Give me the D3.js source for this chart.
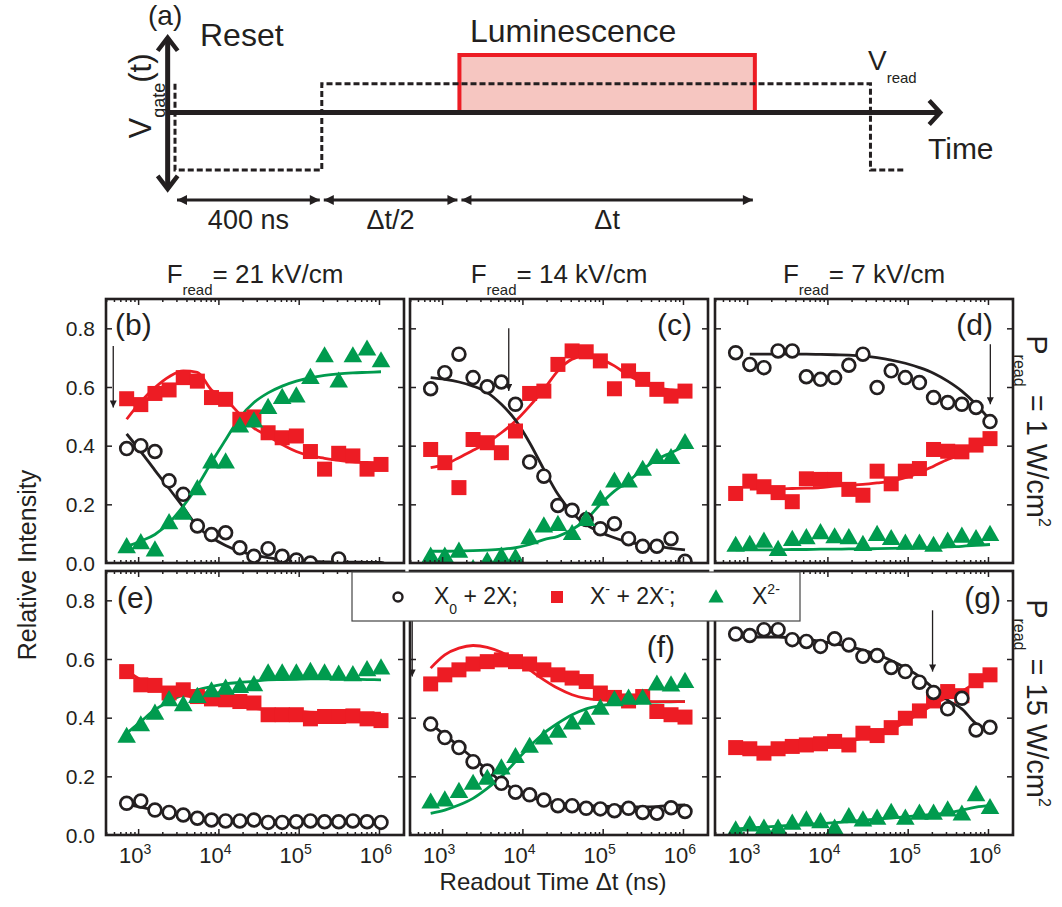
<!DOCTYPE html>
<html>
<head>
<meta charset="utf-8">
<script src="https://cdn.jsdelivr.net/npm/d3@7/dist/d3.min.js"></script>
<style>
  body { margin: 0; background: #fff; }
  text { font-family: "Liberation Sans", Arial, sans-serif; fill: #231f20; }
</style>
</head>
<body>
<div id="chart"></div>
<script>
// readout times (ns), same grid in every panel
var readTimes = [720, 1080, 1620, 2430, 3650, 5470, 8200, 12300, 18500, 27700, 41600, 62300, 93500, 140000, 210000, 315000, 473000, 710000, 1060000];

// (b) F = 21 kV/cm, P = 1 W/cm2
var b_x0 = [0.39, 0.40, 0.38, 0.28, 0.234, 0.126, 0.097, 0.103, 0.052, 0.023, 0.049, 0.023, 0.01, 0.0, -0.02, 0.014, -0.02, -0.02, -0.02];
var b_xm = [0.56, 0.54, 0.578, 0.59, 0.632, 0.62, 0.564, 0.558, 0.49, 0.498, 0.444, 0.427, 0.433, 0.38, 0.32, 0.374, 0.365, 0.32, 0.336];
var b_x2 = [0.055, 0.069, 0.044, 0.137, 0.169, 0.253, 0.344, 0.344, 0.467, 0.484, 0.53, 0.564, 0.569, 0.632, 0.706, 0.62, 0.706, 0.729, 0.689];
var b_fit0 = [0.44, 0.38, 0.316, 0.254, 0.19, 0.125, 0.087, 0.06, 0.04, 0.027, 0.018, 0.012, 0.008, 0.005, 0.004, 0.003, 0.003, 0.002, 0.002];
var b_fitm = [0.49, 0.55, 0.598, 0.635, 0.655, 0.65, 0.59, 0.558, 0.507, 0.46, 0.433, 0.404, 0.38, 0.365, 0.357, 0.35, 0.345, 0.343, 0.342];
var b_fit2 = [0.056, 0.075, 0.097, 0.137, 0.194, 0.262, 0.343, 0.42, 0.496, 0.547, 0.58, 0.603, 0.62, 0.632, 0.64, 0.645, 0.648, 0.65, 0.652];

// (c) F = 14 kV/cm, P = 1 W/cm2
var c_x0 = [0.594, 0.649, 0.712, 0.632, 0.601, 0.617, 0.541, 0.344, 0.296, 0.196, 0.18, 0.148, 0.117, 0.134, 0.083, 0.057, 0.057, 0.083, 0.006];
var c_xm = [0.387, 0.342, 0.257, 0.421, 0.41, 0.376, 0.45, 0.578, 0.586, 0.677, 0.723, 0.72, 0.689, 0.594, 0.655, 0.626, 0.592, 0.569, 0.586];
var c_x2 = [0.023, 0.023, 0.04, -0.02, 0.006, 0.023, 0.018, 0.086, 0.126, 0.131, 0.1, 0.148, 0.217, 0.279, 0.279, 0.319, 0.359, 0.359, 0.41];
var c_fit0 = [0.632, 0.626, 0.617, 0.603, 0.581, 0.541, 0.487, 0.41, 0.319, 0.234, 0.171, 0.131, 0.105, 0.086, 0.071, 0.063, 0.057, 0.05, 0.045];
var c_fitm = [0.325, 0.336, 0.359, 0.384, 0.41, 0.444, 0.484, 0.535, 0.592, 0.655, 0.695, 0.706, 0.695, 0.672, 0.64, 0.615, 0.598, 0.59, 0.585];
var c_fit2 = [0.04, 0.04, 0.041, 0.042, 0.044, 0.047, 0.052, 0.063, 0.08, 0.091, 0.114, 0.148, 0.2, 0.245, 0.279, 0.319, 0.353, 0.376, 0.399];

// (d) F = 7 kV/cm, P = 1 W/cm2
var d_x0 = [0.717, 0.677, 0.666, 0.723, 0.723, 0.635, 0.626, 0.632, 0.674, 0.712, 0.598, 0.655, 0.632, 0.615, 0.564, 0.547, 0.541, 0.53, 0.482];
var d_xm = [0.237, 0.279, 0.26, 0.24, 0.209, 0.287, 0.285, 0.285, 0.251, 0.231, 0.313, 0.27, 0.313, 0.322, 0.387, 0.381, 0.379, 0.402, 0.424];
var d_x2 = [0.06, 0.063, 0.074, 0.046, 0.08, 0.086, 0.103, 0.089, 0.086, 0.063, 0.097, 0.083, 0.067, 0.067, 0.06, 0.074, 0.091, 0.083, 0.097];
var d_fit0 = [null, 0.712, 0.712, 0.712, 0.712, 0.712, 0.711, 0.71, 0.709, 0.706, 0.70, 0.692, 0.681, 0.666, 0.647, 0.62, 0.586, 0.541, 0.487];
var d_fitm = [null, 0.252, 0.253, 0.253, 0.254, 0.255, 0.257, 0.262, 0.265, 0.268, 0.273, 0.279, 0.291, 0.308, 0.33, 0.353, 0.37, 0.395, null];
var d_fit2 = [0.045, 0.045, 0.045, 0.045, 0.046, 0.046, 0.047, 0.047, 0.048, 0.048, 0.049, 0.05, 0.051, 0.052, 0.052, 0.055, 0.057, 0.06, 0.063];

// (e) F = 21 kV/cm, P = 15 W/cm2
var e_x0 = [0.108, 0.116, 0.085, 0.077, 0.068, 0.057, 0.051, 0.048, 0.048, 0.051, 0.043, 0.043, 0.045, 0.048, 0.045, 0.045, 0.048, 0.045, 0.043];
var e_xm = [0.557, 0.512, 0.51, 0.484, 0.495, 0.472, 0.464, 0.461, 0.455, 0.45, 0.41, 0.41, 0.41, 0.396, 0.404, 0.404, 0.406, 0.396, 0.39];
var e_x2 = [0.336, 0.375, 0.415, 0.461, 0.444, 0.472, 0.491, 0.5, 0.506, 0.512, 0.552, 0.552, 0.552, 0.557, 0.552, 0.548, 0.546, 0.563, 0.569];
var e_fit0 = [0.105, 0.095, 0.085, 0.075, 0.066, 0.058, 0.053, 0.05, 0.048, 0.047, 0.046, 0.045, 0.045, 0.045, 0.045, 0.045, 0.045, 0.045, 0.045];
var e_fitm = [0.56, 0.529, 0.506, 0.489, 0.478, 0.466, 0.455, 0.446, 0.438, 0.432, 0.427, 0.424, 0.421, 0.419, 0.418, 0.417, 0.416, 0.415, 0.415];
var e_fit2 = [0.347, 0.387, 0.427, 0.455, 0.478, 0.495, 0.506, 0.515, 0.52, 0.524, 0.529, 0.53, 0.531, 0.532, 0.532, 0.532, 0.531, 0.53, 0.529];

// (f) F = 14 kV/cm, P = 15 W/cm2
var f_x0 = [0.378, 0.332, 0.298, 0.25, 0.218, 0.176, 0.146, 0.137, 0.119, 0.1, 0.1, 0.091, 0.089, 0.083, 0.091, 0.077, 0.074, 0.093, 0.08];
var f_xm = [0.515, 0.546, 0.563, 0.583, 0.591, 0.597, 0.591, 0.583, 0.563, 0.546, 0.535, 0.523, 0.484, 0.469, 0.457, 0.472, 0.421, 0.41, 0.402];
var f_x2 = [0.112, 0.119, 0.148, 0.176, 0.193, 0.228, 0.267, 0.302, 0.33, 0.353, 0.381, 0.398, 0.432, 0.461, 0.466, 0.466, 0.514, 0.511, 0.523];
var f_fit0 = [0.378, 0.341, 0.302, 0.262, 0.222, 0.182, 0.154, 0.131, 0.116, 0.108, 0.103, 0.1, 0.098, 0.097, 0.096, 0.096, 0.097, 0.1, 0.103];
var f_fitm = [0.569, 0.614, 0.637, 0.646, 0.64, 0.623, 0.597, 0.563, 0.529, 0.5, 0.478, 0.466, 0.461, 0.458, 0.457, 0.456, 0.455, 0.455, 0.455];
var f_fit2 = [0.074, 0.085, 0.102, 0.125, 0.159, 0.199, 0.25, 0.302, 0.347, 0.381, 0.41, 0.43, 0.441, 0.448, 0.45, 0.452, 0.453, 0.454, 0.455];

// (g) F = 7 kV/cm, P = 15 W/cm2
var g_x0 = [0.685, 0.68, 0.7, 0.7, 0.666, 0.66, 0.643, 0.669, 0.648, 0.609, 0.612, 0.571, 0.557, 0.521, 0.486, 0.43, 0.466, 0.358, 0.367];
var g_xm = [0.298, 0.294, 0.279, 0.294, 0.302, 0.307, 0.311, 0.319, 0.307, 0.347, 0.339, 0.366, 0.398, 0.423, 0.457, 0.489, 0.475, 0.526, 0.546];
var g_x2 = [0.017, 0.034, 0.023, 0.023, 0.04, 0.051, 0.045, 0.023, 0.062, 0.051, 0.057, 0.077, 0.057, 0.074, 0.074, 0.085, 0.071, 0.137, 0.093];
var g_fit0 = [0.675, 0.675, 0.675, 0.675, 0.672, 0.667, 0.66, 0.652, 0.642, 0.63, 0.615, 0.595, 0.57, 0.54, 0.5, 0.46, 0.43, 0.38, 0.36];
var g_fitm = [0.292, 0.29, 0.29, 0.292, 0.295, 0.3, 0.305, 0.312, 0.32, 0.33, 0.343, 0.36, 0.385, 0.415, 0.445, 0.47, 0.49, 0.52, 0.545];
var g_fit2 = [0.02, 0.024, 0.027, 0.03, 0.033, 0.036, 0.039, 0.042, 0.046, 0.05, 0.054, 0.058, 0.062, 0.066, 0.07, 0.075, 0.085, 0.095, 0.1];

// arrows marking the crossover time: [time (ns), start value, tip value]
var b_arrow = [490, 0.74, 0.53];
var c_arrow = [6760, 0.80, 0.586];
var d_arrow = [1070000, 0.746, 0.541];
var f_arrow = [424, 0.80, 0.54];
var g_arrow = [204000, 0.766, 0.557];

var columnTitles = ["21 kV/cm", "14 kV/cm", "7 kV/cm"];
var rowTitles = ["1 W/cm", "15 W/cm"];
var yTicks = [0, 0.2, 0.4, 0.6, 0.8];
var xTicks = [1e3, 1e4, 1e5, 1e6];
var xTickExp = ["3", "4", "5", "6"];

// schematic (a): arbitrary time units and gate levels
var gateTimes = [0, 0, 400, 400, 1895, 1895, 1990];
var gateLevels = [0.5, -1, -1, 0.5, 0.5, -1, -1];
var lumWindow = [775, 1580];
var spans = [[0, 400, "400 ns"], [400, 775, "\u0394t/2"], [775, 1580, "\u0394t"]];

var RED = "#ed1c24", GREEN = "#009b4e", INK = "#231f20";
var W = 298, H = 264;

var svg = d3.select("#chart").append("svg")
    .attr("width", 1062)
    .attr("height", 907);

var defs = svg.append("defs");
defs.append("marker")
    .attr("id", "tip")
    .attr("viewBox", "0 0 10 10")
    .attr("refX", 10).attr("refY", 5)
    .attr("markerWidth", 9).attr("markerHeight", 7)
    .attr("markerUnits", "userSpaceOnUse")
    .attr("orient", "auto")
  .append("path").attr("d", "M0,0L10,5L0,10Z").attr("fill", INK);
defs.append("marker")
    .attr("id", "dimtip")
    .attr("viewBox", "0 0 10 10")
    .attr("refX", 10).attr("refY", 5)
    .attr("markerWidth", 12).attr("markerHeight", 10)
    .attr("markerUnits", "userSpaceOnUse")
    .attr("orient", "auto-start-reverse")
  .append("path").attr("d", "M0,0L10,5L0,10Z").attr("fill", INK);

// text with sub/superscripts: parts = [[str, "n"|"sub"|"sup"], ...]
function rich(t, parts, fs, small) {
    var shift = 0;
    parts.forEach(function(p) {
        var s = p[1] === "sub" ? fs * 0.45 : p[1] === "sup" ? -fs * 0.42 : 0;
        t.append("tspan")
            .attr("dy", s - shift)
            .style("font-size", (p[1] === "n" ? fs : small) + "px")
            .text(p[0]);
        shift = s;
    });
    return t;
}

// ---------- panel (a) ----------
var tS = d3.scaleLinear().domain([0, 2000]).range([175, 909]);
var vS = d3.scaleLinear().domain([-1, 1]).range([170, 55]);
var ga = svg.append("g");

ga.append("rect")
    .attr("x", tS(lumWindow[0]))
    .attr("y", vS(1))
    .attr("width", tS(lumWindow[1]) - tS(lumWindow[0]))
    .attr("height", vS(0) - vS(1))
    .attr("fill", "#f6c6c1")
    .attr("stroke", RED)
    .attr("stroke-width", 4);

ga.append("line")
    .attr("x1", tS(-20)).attr("x2", tS(2085))
    .attr("y1", vS(0)).attr("y2", vS(0))
    .attr("stroke", INK).attr("stroke-width", 5);
ga.append("path")
    .attr("d", "M" + (tS(2085) - 11) + "," + (vS(0) - 12) + "L" + tS(2085) + "," + vS(0) + "L" + (tS(2085) - 11) + "," + (vS(0) + 12))
    .attr("fill", "none").attr("stroke", INK).attr("stroke-width", 4.5);

ga.append("line")
    .attr("x1", tS(-20)).attr("x2", tS(-20))
    .attr("y1", vS(1.3)).attr("y2", vS(-1.33))
    .attr("stroke", INK).attr("stroke-width", 5);
ga.append("path")
    .attr("d", "M" + (tS(-20) - 10) + "," + (vS(1.3) + 13) + "L" + tS(-20) + "," + vS(1.3) + "L" + (tS(-20) + 10) + "," + (vS(1.3) + 13))
    .attr("fill", "none").attr("stroke", INK).attr("stroke-width", 4.5);
ga.append("path")
    .attr("d", "M" + (tS(-20) - 10) + "," + (vS(-1.33) - 13) + "L" + tS(-20) + "," + vS(-1.33) + "L" + (tS(-20) + 10) + "," + (vS(-1.33) - 13))
    .attr("fill", "none").attr("stroke", INK).attr("stroke-width", 4.5);

ga.append("path")
    .datum(d3.zip(gateTimes, gateLevels))
    .attr("d", d3.line().x(function(d) { return tS(d[0]); }).y(function(d) { return vS(d[1]); }))
    .attr("fill", "none")
    .attr("stroke", INK)
    .attr("stroke-width", 3)
    .attr("stroke-dasharray", "6,3");

spans.forEach(function(s) {
    ga.append("line")
        .attr("x1", tS(s[0]) + 2).attr("x2", tS(s[1]) - 2)
        .attr("y1", 200).attr("y2", 200)
        .attr("stroke", INK).attr("stroke-width", 3)
        .attr("marker-start", "url(#dimtip)")
        .attr("marker-end", "url(#dimtip)");
    ga.append("text")
        .attr("x", (tS(s[0]) + tS(s[1])) / 2)
        .attr("y", 229)
        .attr("text-anchor", "middle")
        .style("font-size", "27px")
        .text(s[2]);
});

ga.append("text").attr("x", 148).attr("y", 25).style("font-size", "28px").text("(a)");
ga.append("text").attr("x", 200).attr("y", 46).style("font-size", "32px").text("Reset");
ga.append("text").attr("x", 470).attr("y", 42).style("font-size", "32px").text("Luminescence");
ga.append("text").attr("x", 928).attr("y", 159).style("font-size", "30px").text("Time");
rich(ga.append("text").attr("x", 868).attr("y", 70), [["V", "n"], ["read", "sub"]], 28, 15);
rich(ga.append("text").attr("transform", "translate(151,96) rotate(-90)").attr("text-anchor", "middle"),
    [["V", "n"], ["gate", "sub"], ["(t)", "n"]], 31, 18);

// ---------- data panels ----------
var x = d3.scaleLog().domain([398, 2.05e6]).range([0, W]);
var y = d3.scaleLinear().domain([0, 0.9]).range([H, 0]);

var panels = [
    {key: "b", col: 0, row: 0, x0: b_x0, xm: b_xm, x2: b_x2, f0: b_fit0, fm: b_fitm, f2: b_fit2, arrow: b_arrow, lab: [9, 36, "start"]},
    {key: "c", col: 1, row: 0, x0: c_x0, xm: c_xm, x2: c_x2, f0: c_fit0, fm: c_fitm, f2: c_fit2, arrow: c_arrow, lab: [W - 16, 36, "end"]},
    {key: "d", col: 2, row: 0, x0: d_x0, xm: d_xm, x2: d_x2, f0: d_fit0, fm: d_fitm, f2: d_fit2, arrow: d_arrow, lab: [W - 20, 36, "end"]},
    {key: "e", col: 0, row: 1, x0: e_x0, xm: e_xm, x2: e_x2, f0: e_fit0, fm: e_fitm, f2: e_fit2, arrow: null, lab: [11, 37, "start"]},
    {key: "f", col: 1, row: 1, x0: f_x0, xm: f_xm, x2: f_x2, f0: f_fit0, fm: f_fitm, f2: f_fit2, arrow: f_arrow, lab: [W - 33, 86, "end"]},
    {key: "g", col: 2, row: 1, x0: g_x0, xm: g_xm, x2: g_x2, f0: g_fit0, fm: g_fitm, f2: g_fit2, arrow: g_arrow, lab: [W - 12, 37, "end"]}
];
var colLeft = [106, 410, 715];
var rowTop = [299, 571];

var fitLine = d3.line()
    .defined(function(d) { return d[1] != null; })
    .x(function(d) { return x(d[0]); })
    .y(function(d) { return y(d[1]); })
    .curve(d3.curveMonotoneX);

var minorTicks = [];
[100, 1000, 10000, 100000, 1000000].forEach(function(dec) {
    for (var k = 2; k <= 9; k++) {
        if (dec * k > x.domain()[0] && dec * k < x.domain()[1]) minorTicks.push(dec * k);
    }
});

function styleAxis(a) {
    a.select(".domain").remove();
    a.selectAll("line").attr("stroke", INK).attr("stroke-width", 1.5);
    a.selectAll("text").remove();
}

panels.forEach(function(p) {
    var g = svg.append("g")
        .attr("transform", "translate(" + colLeft[p.col] + "," + rowTop[p.row] + ")");

    g.append("clipPath").attr("id", "clip-" + p.key)
      .append("rect").attr("width", W).attr("height", H);
    var plot = g.append("g").attr("clip-path", "url(#clip-" + p.key + ")");

    [[p.f2, GREEN], [p.fm, RED], [p.f0, INK]].forEach(function(s) {
        plot.append("path")
            .datum(d3.zip(readTimes, s[0]))
            .attr("d", fitLine)
            .attr("fill", "none")
            .attr("stroke", s[1])
            .attr("stroke-width", 2.8);
    });

    plot.selectAll("rect.sq")
        .data(d3.zip(readTimes, p.xm))
        .join("rect")
        .attr("class", "sq")
        .attr("x", function(d) { return x(d[0]) - 7.5; })
        .attr("y", function(d) { return y(d[1]) - 7.5; })
        .attr("width", 15).attr("height", 15)
        .attr("fill", RED);

    plot.selectAll("circle")
        .data(d3.zip(readTimes, p.x0))
        .join("circle")
        .attr("cx", function(d) { return x(d[0]); })
        .attr("cy", function(d) { return y(d[1]); })
        .attr("r", 6.4)
        .attr("fill", "#fff")
        .attr("stroke", INK)
        .attr("stroke-width", 2.7);

    var tri = d3.symbol(d3.symbolTriangle, 150);
    plot.selectAll("path.tri")
        .data(d3.zip(readTimes, p.x2))
        .join("path")
        .attr("class", "tri")
        .attr("d", tri)
        .attr("transform", function(d) { return "translate(" + x(d[0]) + "," + (y(d[1]) + 1) + ")"; })
        .attr("fill", GREEN);

    if (p.arrow) {
        g.append("line")
            .attr("x1", x(p.arrow[0])).attr("x2", x(p.arrow[0]))
            .attr("y1", y(p.arrow[1])).attr("y2", y(p.arrow[2]))
            .attr("stroke", INK).attr("stroke-width", 1.3)
            .attr("marker-end", "url(#tip)");
    }

    // inward ticks on all four sides
    g.append("g").attr("transform", "translate(0," + H + ")")
        .call(d3.axisBottom(x).tickValues(xTicks).tickSize(-6)).call(styleAxis);
    g.append("g")
        .call(d3.axisTop(x).tickValues(xTicks).tickSize(-6)).call(styleAxis);
    g.append("g").attr("transform", "translate(0," + H + ")")
        .call(d3.axisBottom(x).tickValues(minorTicks).tickSize(-3)).call(styleAxis);
    g.append("g")
        .call(d3.axisTop(x).tickValues(minorTicks).tickSize(-3)).call(styleAxis);
    g.append("g")
        .call(d3.axisLeft(y).tickValues(yTicks.slice(1)).tickSize(-6)).call(styleAxis);
    g.append("g").attr("transform", "translate(" + W + ",0)")
        .call(d3.axisRight(y).tickValues(yTicks.slice(1)).tickSize(-6)).call(styleAxis);

    g.append("rect")
        .attr("width", W).attr("height", H)
        .attr("fill", "none")
        .attr("stroke", INK)
        .attr("stroke-width", 2.6);

    g.append("text")
        .attr("x", p.lab[0]).attr("y", p.lab[1])
        .attr("text-anchor", p.lab[2])
        .style("font-size", "30px")
        .text("(" + p.key + ")");

    if (p.col === 0) {
        g.selectAll("text.yl")
            .data(yTicks)
            .join("text")
            .attr("class", "yl")
            .attr("x", -11)
            .attr("y", function(d) { return y(d); })
            .attr("dy", "0.36em")
            .attr("text-anchor", "end")
            .style("font-size", "21px")
            .text(d3.format(".1f"));
    }
    if (p.row === 1) {
        xTicks.forEach(function(t, i) {
            rich(g.append("text")
                    .attr("x", x(t) - 3)
                    .attr("y", H + 28)
                    .attr("text-anchor", "middle"),
                [["10", "n"], [xTickExp[i], "sup"]], 22, 14);
        });
    }
    if (p.row === 0) {
        rich(svg.append("text")
                .attr("x", colLeft[p.col] + W / 2)
                .attr("y", 283)
                .attr("text-anchor", "middle"),
            [["F", "n"], ["read", "sub"], ["= " + columnTitles[p.col], "n"]], 26, 15);
    }
    if (p.col === 2) {
        rich(svg.append("text")
                .attr("transform", "translate(1027," + (rowTop[p.row] + H / 2) + ") rotate(90)")
                .attr("text-anchor", "middle"),
            [["P", "n"], ["read", "sub"], [" = " + rowTitles[p.row], "n"], ["2", "sup"]], 29, 16);
    }
});

// axis titles
svg.append("text")
    .attr("transform", "translate(36,565) rotate(-90)")
    .attr("text-anchor", "middle")
    .style("font-size", "25px")
    .text("Relative Intensity");
svg.append("text")
    .attr("x", 553).attr("y", 890)
    .attr("text-anchor", "middle")
    .style("font-size", "24px")
    .text("Readout Time \u0394t (ns)");

// legend over the lower row
var lg = svg.append("g").attr("transform", "translate(352,572)");
lg.append("rect").attr("width", 448).attr("height", 49)
    .attr("fill", "#fff").attr("stroke", "#444").attr("stroke-width", 1.2);
lg.append("circle").attr("cx", 46).attr("cy", 25).attr("r", 4.5)
    .attr("fill", "#fff").attr("stroke", INK).attr("stroke-width", 2.4);
rich(lg.append("text").attr("x", 82).attr("y", 32), [["X", "n"], ["0", "sub"], [" + 2X;", "n"]], 23, 14);
lg.append("rect").attr("x", 199).attr("y", 19).attr("width", 12).attr("height", 12).attr("fill", RED);
rich(lg.append("text").attr("x", 238).attr("y", 32),
    [["X", "n"], ["-", "sup"], [" + 2X", "n"], ["-", "sup"], [";", "n"]], 23, 14);
lg.append("path").attr("d", d3.symbol(d3.symbolTriangle, 100))
    .attr("transform", "translate(364,26)").attr("fill", GREEN);
rich(lg.append("text").attr("x", 400).attr("y", 32), [["X", "n"], ["2-", "sup"]], 23, 14);
</script>
</body>
</html>
